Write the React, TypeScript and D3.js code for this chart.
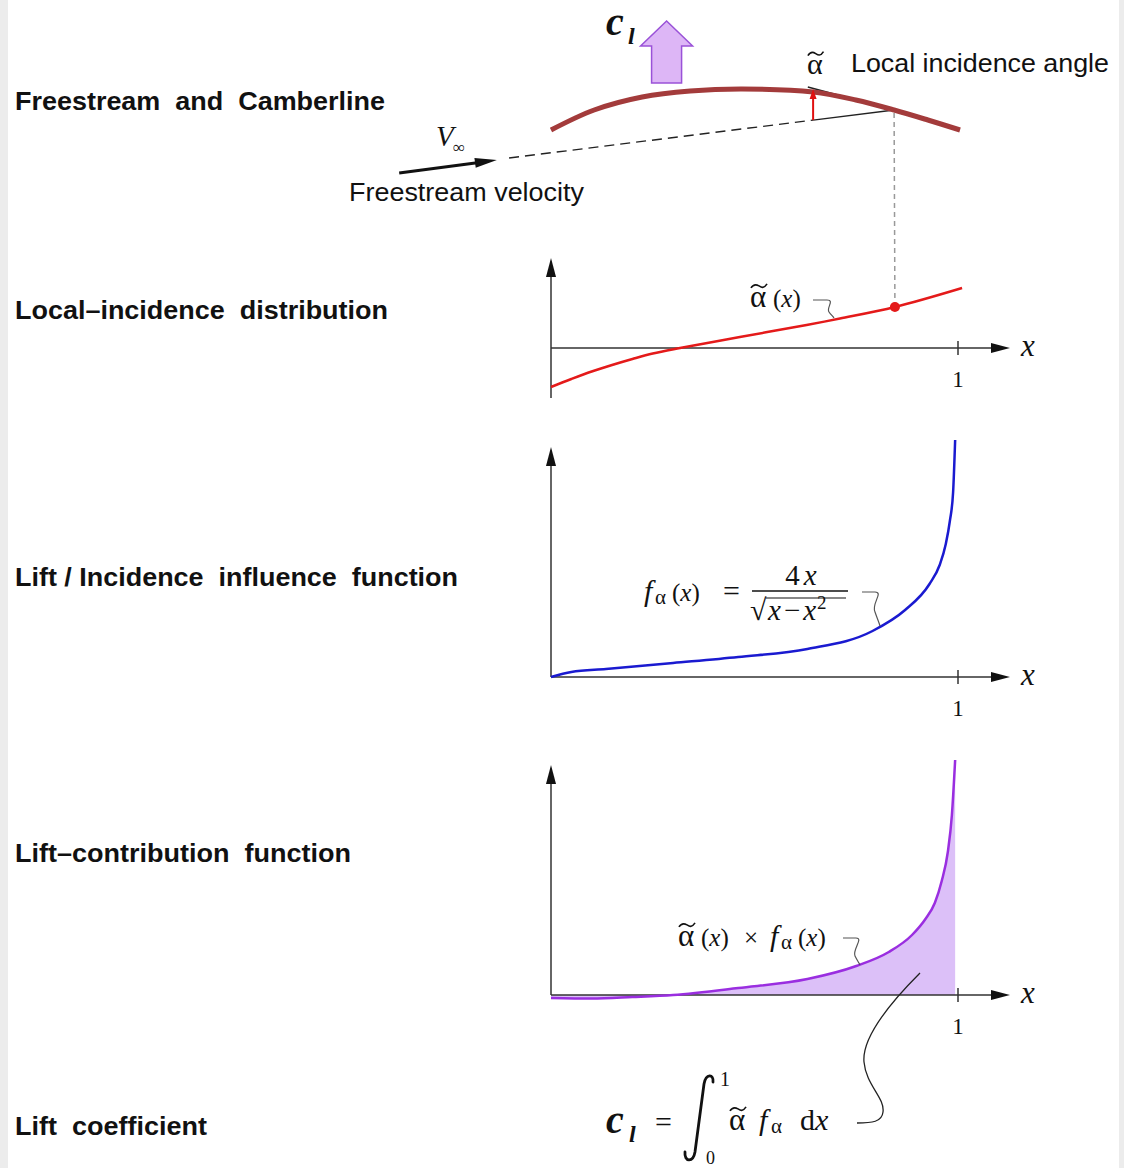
import React from "react";
import * as d3 from "d3";

const W = 1124;
const H = 1168;

// camberline sketch (x in chord units, h in camber units)
const camberX = [0, 0.106, 0.224, 0.342, 0.469, 0.644, 0.749, 0.843, 0.926, 1.005];
const camberH = [0, 2.0, 3.3, 3.9, 4.1, 3.8, 3.0, 2.0, 1.0, 0];
const freestreamX = [-0.103, 0.644, 0.843];
const freestreamH = [-2.8, 0.99, 2.0];
const tangentX = [0.631, 0.843];
const tangentH = [4.3, 2.0];
const velocityX = [-0.373, -0.133];
const velocityH = [-4.3, -3.0];
const incidenceX = 0.644;
const incidenceH = [0.99, 4.1];
const liftX = 0.284;

// local incidence distribution
const alphaX = [0, 0.05, 0.1, 0.15, 0.2, 0.25, 0.317, 0.464, 0.628, 0.71, 0.845, 1.01];
const alphaY = [-3.9, -3.1, -2.35, -1.7, -1.1, -0.55, 0, 1.1, 2.3, 2.95, 4.1, 6.0];
const markerX = 0.845;

// lift / incidence influence function
const influenceX = [0, 0.05, 0.135, 0.3, 0.46, 0.63, 0.79, 0.87, 0.93, 0.955, 0.97, 0.98, 0.988, 0.993];
const influenceY = [0, 0.5, 0.8, 1.4, 2.0, 2.8, 4.6, 6.7, 9.3, 11.2, 13.3, 15.6, 18.5, 23.7];

// lift contribution function
const contribX = [0, 0.1, 0.2, 0.3, 0.46, 0.63, 0.75, 0.83, 0.887, 0.92, 0.943, 0.96, 0.975, 0.985, 0.993];
const contribY = [-0.3, -0.35, -0.2, 0, 0.7, 1.6, 2.9, 4.3, 6.0, 7.6, 9.2, 11.4, 14.3, 18.0, 23.5];

const rowLabels = [
  "Freestream  and  Camberline",
  "Local\u2013incidence  distribution",
  "Lift / Incidence  influence  function",
  "Lift\u2013contribution  function",
  "Lift  coefficient",
];
const rowY = [110, 319, 586, 862, 1135];
const rowW = [370, 373, 443, 336, 192];

const xScale = d3.scaleLinear().domain([0, 1]).range([551, 958]);
const yCamber = d3.scaleLinear().domain([0, 5]).range([130, 80]);
const y1 = d3.scaleLinear().domain([-5, 9]).range([398, 258]);
const y2 = d3.scaleLinear().domain([0, 23]).range([677, 447]);
const y3 = d3.scaleLinear().domain([0, 23]).range([995, 765]);

const serif = "'Liberation Serif', 'Times New Roman', serif";
const sans = "'Liberation Sans', Arial, Helvetica, sans-serif";

function head(tx: number, ty: number, fx: number, fy: number, len: number, hw: number) {
  const a = Math.atan2(ty - fy, tx - fx);
  const bx = tx - len * Math.cos(a);
  const by = ty - len * Math.sin(a);
  const px = -Math.sin(a) * hw;
  const py = Math.cos(a) * hw;
  return `${tx},${ty} ${bx + px},${by + py} ${bx - px},${by - py}`;
}

// alpha with a tilde on top
function AlphaT({ x, y, size }: { x: number; y: number; size: number }) {
  const cx = x + size * 0.29;
  const ty = y - size * 0.68;
  const w = size * 0.26;
  return (
    <g>
      <text x={x} y={y} fontSize={size} fontFamily={serif} fill="#111">α</text>
      <path
        d={`M${cx - w},${ty + 2} C${cx - w * 0.6},${ty - 3} ${cx - w * 0.2},${ty - 1} ${cx},${ty} C${cx + w * 0.3},${ty + 1.5} ${cx + w * 0.6},${ty + 3} ${cx + w},${ty - 2}`}
        fill="none"
        stroke="#111"
        strokeWidth={1.6}
      />
    </g>
  );
}

function Axes({ y }: { y: d3.ScaleLinear<number, number> }) {
  const ay = y(0);
  const [bottom, top] = y.range();
  const xl = xScale(0);
  const xr = 1010;
  const tx = xScale(1);
  return (
    <g>
      <line x1={xl} y1={bottom} x2={xl} y2={top + 16} stroke="#333" strokeWidth={1.5} />
      <polygon points={head(xl, top, xl, bottom, 19, 5)} fill="#111" />
      <line x1={xl} y1={ay} x2={xr - 16} y2={ay} stroke="#333" strokeWidth={1.5} />
      <polygon points={head(xr, ay, xl, ay, 19, 5)} fill="#111" />
      <line x1={tx} y1={ay - 7} x2={tx} y2={ay + 7} stroke="#333" strokeWidth={1.5} />
      <text x={tx} y={ay + 39} fontSize={23} fontFamily={serif} textAnchor="middle" fill="#111">1</text>
      <text x={1021} y={ay + 8} fontSize={31} fontFamily={serif} fontStyle="italic" fill="#111">x</text>
    </g>
  );
}

export default function App() {
  const smooth = d3.curveCatmullRom.alpha(0.5);
  const camberLine = d3
    .line<number>()
    .x((_, i) => xScale(camberX[i]))
    .y((d) => yCamber(d))
    .curve(smooth)(camberH);

  const fsPt = (i: number) => [xScale(freestreamX[i]), yCamber(freestreamH[i])];
  const [fs0x, fs0y] = fsPt(0);
  const [fs1x, fs1y] = fsPt(1);
  const [fs2x, fs2y] = fsPt(2);

  const vx0 = xScale(velocityX[0]);
  const vy0 = yCamber(velocityH[0]);
  const vx1 = xScale(velocityX[1]);
  const vy1 = yCamber(velocityH[1]);

  const ix = xScale(incidenceX);
  const iy0 = yCamber(incidenceH[0]);
  const iy1 = yCamber(incidenceH[1]);

  const alphaLine = d3
    .line<number>()
    .x((_, i) => xScale(alphaX[i]))
    .y((d) => y1(d))
    .curve(smooth)(alphaY);
  const mi = alphaX.indexOf(markerX);
  const mx = xScale(alphaX[mi]);
  const my = y1(alphaY[mi]);

  const influenceLine = d3
    .line<number>()
    .x((_, i) => xScale(influenceX[i]))
    .y((d) => y2(d))
    .curve(d3.curveMonotoneX)(influenceY);

  const contribLine = d3
    .line<number>()
    .x((_, i) => xScale(contribX[i]))
    .y((d) => y3(d))
    .curve(d3.curveMonotoneX)(contribY);
  const contribArea = d3
    .area<number>()
    .x((_, i) => xScale(contribX[i]))
    .y0(y3(0))
    .y1((d) => y3(d))
    .curve(d3.curveMonotoneX)(contribY);

  const lx = xScale(liftX);
  const liftPath = `M${lx - 15},83 L${lx - 15},46 L${lx - 26},46 L${lx},21 L${lx + 26},46 L${lx + 15},46 L${lx + 15},83 Z`;

  return (
    <svg width={W} height={H} style={{ position: "absolute", left: 0, top: 0, background: "#fff" }}>
      <rect x={0} y={0} width={8} height={H} fill="#ececec" />
      <rect x={1119} y={0} width={5} height={H} fill="#ececec" />

      {rowLabels.map((t, i) => (
        <text
          key={t}
          x={15}
          y={rowY[i]}
          fontFamily={sans}
          fontWeight="bold"
          fontSize={25}
          fill="#111"
          textLength={rowW[i]}
          lengthAdjust="spacingAndGlyphs"
          style={{ whiteSpace: "pre" }}
        >
          {t}
        </text>
      ))}

      {/* freestream and camberline */}
      <path d={liftPath} fill="#ddb6f6" stroke="#9a52d8" strokeWidth={1.5} />
      <text x={606} y={35} fontFamily={serif} fontStyle="italic" fontWeight="bold" fontSize={40} fill="#111">c</text>
      <text x={628} y={44} fontFamily={serif} fontStyle="italic" fontWeight="bold" fontSize={24} fill="#111">l</text>

      <line x1={fs0x} y1={fs0y} x2={fs1x} y2={fs1y} stroke="#222" strokeWidth={1.4} strokeDasharray="10,6" />
      <line x1={fs1x} y1={fs1y} x2={fs2x} y2={fs2y} stroke="#222" strokeWidth={1.4} />
      <line x1={xScale(tangentX[0])} y1={yCamber(tangentH[0])} x2={xScale(tangentX[1])} y2={yCamber(tangentH[1])} stroke="#222" strokeWidth={1.4} />
      <path d={camberLine ?? ""} fill="none" stroke="#a33b3b" strokeWidth={5} />
      <line x1={ix} y1={iy0} x2={ix} y2={iy1 + 8} stroke="#e01010" strokeWidth={2} />
      <polygon points={head(ix, iy1, ix, iy0, 10, 3.5)} fill="#e01010" />

      <line x1={vx0} y1={vy0} x2={vx1 - 14} y2={vy1 + 2} stroke="#111" strokeWidth={3} />
      <polygon points={head(vx1, vy1, vx0, vy0, 22, 5)} fill="#111" />
      <text x={436} y={146} fontFamily={serif} fontStyle="italic" fontSize={29} fill="#111">V</text>
      <text x={453} y={153} fontFamily={serif} fontSize={17} fill="#111">∞</text>
      <text x={349} y={201} fontFamily={sans} fontSize={25} fill="#111" textLength={235} lengthAdjust="spacingAndGlyphs">
        Freestream velocity
      </text>

      <AlphaT x={807} y={74} size={30} />
      <text x={851} y={72} fontFamily={sans} fontSize={25} fill="#111" textLength={258} lengthAdjust="spacingAndGlyphs">
        Local incidence angle
      </text>

      <line x1={fs2x} y1={fs2y + 3} x2={mx} y2={my} stroke="#999" strokeWidth={1.5} strokeDasharray="5,4" />

      {/* local incidence distribution */}
      <Axes y={y1} />
      <path d={alphaLine ?? ""} fill="none" stroke="#e41a1a" strokeWidth={2.5} />
      <circle cx={mx} cy={my} r={5} fill="#e41a1a" />
      <AlphaT x={750} y={307} size={31} />
      <text x={773} y={307} fontFamily={serif} fontSize={25} fill="#111">(<tspan fontStyle="italic">x</tspan>)</text>
      <path d="M813,300 L827,300 C835,300 826,308 829,312 C831,315 833,316 834,318" fill="none" stroke="#555" strokeWidth={1.2} />

      {/* influence function */}
      <Axes y={y2} />
      <path d={influenceLine ?? ""} fill="none" stroke="#1a1ad0" strokeWidth={2.5} />
      <text x={644} y={601} fontFamily={serif} fontStyle="italic" fontSize={30} fill="#111">f</text>
      <text x={655} y={604} fontFamily={serif} fontSize={21} fill="#111">α</text>
      <text x={672} y={601} fontFamily={serif} fontSize={25} fill="#111">(<tspan fontStyle="italic">x</tspan>)</text>
      <text x={723} y={601} fontFamily={serif} fontSize={30} fill="#111">=</text>
      <text x={801} y={585} fontFamily={serif} fontSize={29} fill="#111" textAnchor="middle">4<tspan fontStyle="italic" dx={4}>x</tspan></text>
      <line x1={752} y1={591} x2={848} y2={591} stroke="#111" strokeWidth={1.4} />
      <text x={750} y={620} fontFamily={serif} fontSize={30} fill="#111">√</text>
      <line x1={766} y1={598} x2={846} y2={598} stroke="#111" strokeWidth={1.2} />
      <text x={768} y={620} fontFamily={serif} fontSize={29} fill="#111">
        <tspan fontStyle="italic">x</tspan>
        <tspan dx={3}>−</tspan>
        <tspan fontStyle="italic" dx={3}>x</tspan>
        <tspan fontSize={19} dy={-11} dx={1}>2</tspan>
      </text>
      <path d="M862,592 L875,592 C884,592 871,604 875,612 C877,618 879,622 880,626" fill="none" stroke="#555" strokeWidth={1.2} />

      {/* lift contribution */}
      <path d={contribArea ?? ""} fill="#dcc0f8" />
      <Axes y={y3} />
      <path d={contribLine ?? ""} fill="none" stroke="#9a2ee0" strokeWidth={2.5} />
      <AlphaT x={678} y={946} size={31} />
      <text x={701} y={946} fontFamily={serif} fontSize={25} fill="#111">(<tspan fontStyle="italic">x</tspan>)</text>
      <text x={744} y={946} fontFamily={serif} fontSize={25} fill="#111">×</text>
      <text x={770} y={946} fontFamily={serif} fontStyle="italic" fontSize={30} fill="#111">f</text>
      <text x={781} y={949} fontFamily={serif} fontSize={21} fill="#111">α</text>
      <text x={798} y={946} fontFamily={serif} fontSize={25} fill="#111">(<tspan fontStyle="italic">x</tspan>)</text>
      <path d="M843,938 L856,938 C864,938 852,950 855,956 C857,960 859,963 860,965" fill="none" stroke="#555" strokeWidth={1.2} />

      {/* lift coefficient */}
      <path d="M857,1123 C872,1123 882,1122 883,1112 C885,1098 866,1085 864,1062 C862,1040 885,1008 920,973" fill="none" stroke="#222" strokeWidth={1.3} />
      <text x={606} y={1133} fontFamily={serif} fontStyle="italic" fontWeight="bold" fontSize={40} fill="#111">c</text>
      <text x={629} y={1142} fontFamily={serif} fontStyle="italic" fontWeight="bold" fontSize={24} fill="#111">l</text>
      <text x={655} y={1132} fontFamily={serif} fontSize={30} fill="#111">=</text>
      <path d="M685,1152 C684,1162 693,1163 695,1152 L704,1084 C706,1073 714,1074 713,1082" fill="none" stroke="#111" strokeWidth={2.8} strokeLinecap="round" />
      <text x={720} y={1086} fontFamily={serif} fontSize={20} fill="#111">1</text>
      <text x={706} y={1164} fontFamily={serif} fontSize={18} fill="#111">0</text>
      <AlphaT x={729} y={1130} size={31} />
      <text x={759} y={1130} fontFamily={serif} fontStyle="italic" fontSize={30} fill="#111">f</text>
      <text x={771} y={1133} fontFamily={serif} fontSize={21} fill="#111">α</text>
      <text x={800} y={1130} fontFamily={serif} fontSize={30} fill="#111">d<tspan fontStyle="italic">x</tspan></text>
    </svg>
  );
}
